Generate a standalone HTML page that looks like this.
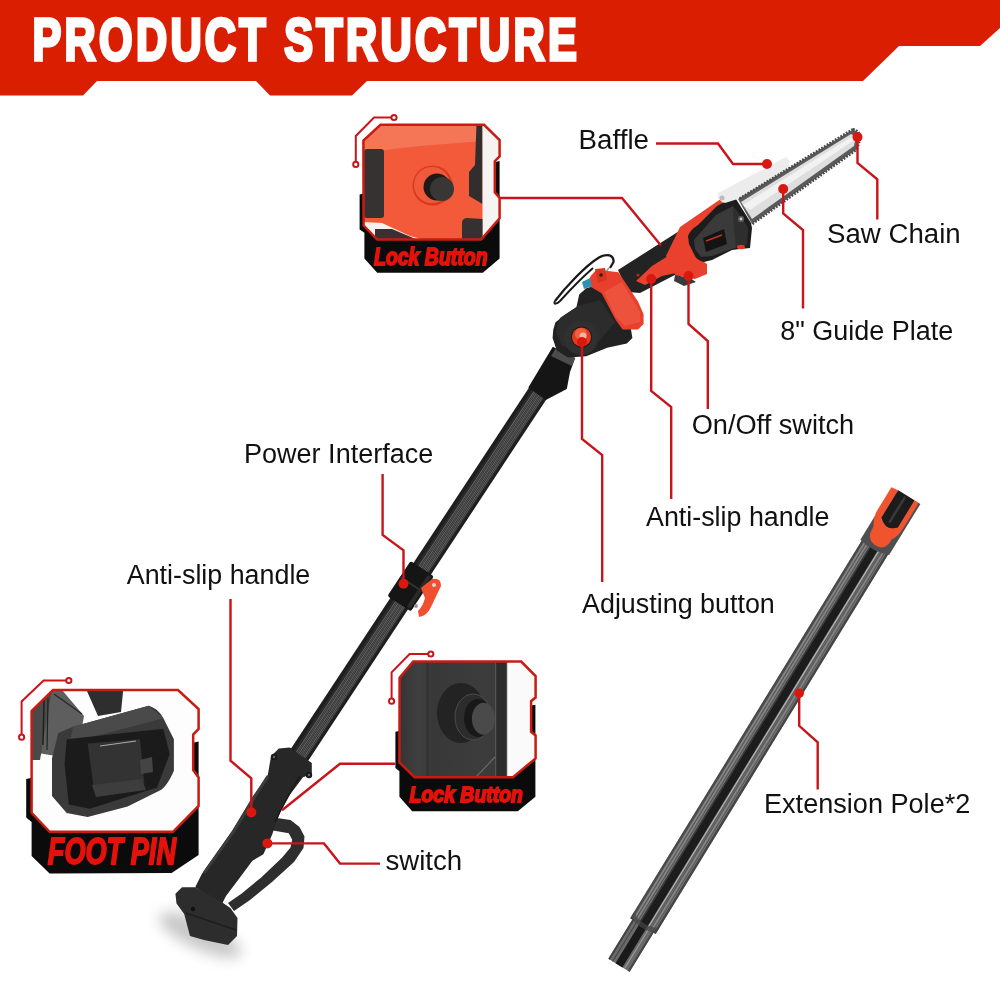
<!DOCTYPE html>
<html><head><meta charset="utf-8">
<style>
html,body{margin:0;padding:0;background:#fff;width:1000px;height:1000px;overflow:hidden}
svg{display:block;will-change:transform}
.lbl{font-family:"Liberation Sans",sans-serif;font-size:27px;fill:#111}
.ttl{font-family:"Liberation Sans",sans-serif;font-weight:bold;fill:#fff}
.tag{font-family:"Liberation Sans",sans-serif;font-weight:bold;font-style:italic;fill:#e3120b;stroke:#e3120b;stroke-width:1.8}
.ld{fill:none;stroke:#c8141a;stroke-width:2.4;stroke-linejoin:miter}
.dot{fill:#d9190f}
.fr{fill:none;stroke:#c81c12;stroke-width:2.5}
.cir{fill:none;stroke:#c8141a;stroke-width:2}
</style></head>
<body>
<svg width="1000" height="1000" viewBox="0 0 1000 1000">
<defs>
</defs>
<!-- banner -->
<polygon points="0,0 1000,0 1000,28 980,46 899,46 863,81 367,81 352,95.5 270,95.5 256,81 97,81 83,95.5 0,95.5" fill="#da1e02"/>
<text class="ttl" transform="translate(32.5,60.3) scale(0.72,1)" x="0" y="0" textLength="756" lengthAdjust="spacing" stroke="#fff" stroke-width="3.6" font-size="60">PRODUCT STRUCTURE</text>

<!-- PRODUCT -->
<g id="product">
<!-- shadow under base -->
<filter id="blur8" x="-50%" y="-50%" width="200%" height="200%"><feGaussianBlur stdDeviation="7"/></filter><ellipse cx="200" cy="935" rx="45" ry="14" fill="#9a9a9a" opacity="0.55" transform="rotate(25 200 935)" filter="url(#blur8)"/>
<!-- extension pole -->
<g transform="translate(876.5,545) rotate(31.5)">
  <rect x="-14.9" y="0" width="29.8" height="447" fill="#767676"/>
  <rect x="-14.9" y="0" width="2.4" height="447" fill="#4a4a4a"/>
  <rect x="12.5" y="0" width="2.4" height="447" fill="#454545"/>
  <rect x="-11.8" y="0" width="0.9" height="447" fill="#8a8a8a"/>
  <rect x="-10.4" y="0" width="0.9" height="447" fill="#555"/>
  <rect x="-9" y="0" width="0.9" height="447" fill="#8a8a8a"/>
  <rect x="-7.4" y="0" width="0.9" height="447" fill="#555"/>
  <rect x="-5.4" y="0" width="1.4" height="447" fill="#3a3a3a"/>
  <rect x="4.4" y="0" width="1.3" height="447" fill="#b0b0b0"/>
  <rect x="6" y="0" width="0.9" height="447" fill="#5a5a5a"/>
  <rect x="7.4" y="0" width="0.9" height="447" fill="#555"/>
  <rect x="9" y="0" width="0.9" height="447" fill="#8a8a8a"/>
  <rect x="10.6" y="0" width="0.9" height="447" fill="#555"/>
  <rect x="-4" y="0" width="8" height="447" fill="#1c1c1c"/>
  <rect x="-12.5" y="445" width="25" height="48" rx="1.5" fill="#6a6a6a"/>
  <rect x="-12.5" y="445" width="2" height="48" fill="#444"/>
  <rect x="10.5" y="445" width="2" height="48" fill="#444"/>
  <rect x="-4" y="445" width="8" height="48" fill="#1a1a1a"/>
  <rect x="-8" y="445" width="1" height="48" fill="#444"/>
  <rect x="6" y="445" width="1" height="48" fill="#a0a0a0"/>
<path d="M-14.9,440 Q0,448 14.9,440 L14.9,446 Q0,452 -14.9,446 Z" fill="#444" opacity="0.7"/>
  <path d="M-16.5,4 L-16.5,-56 L16,-58 L16,2 Q0,8 -16.5,4 Z" fill="#4f4f4f"/>
  <path d="M-17.5,-57 L-10,-58 L-10,-26 Q0,-16 9,-26 L9,-58 L14,-58 L14,-28 Q14,-18 10,-13 Q11,1 -1,1 Q-13,0 -12,-14 Q-17.5,-22 -17.5,-30 Z" fill="#f0542f"/>
  <path d="M-10,-58 L-10,-26 Q0,-16 9,-26 L9,-58 Z" fill="#1c1c1c"/>
  <rect x="-2" y="-56" width="2.5" height="30" fill="#3a3a3a"/>
</g>


<!-- main pole -->
<g transform="translate(536.7,395) rotate(33.39)">
  <rect x="-10.5" y="-12" width="21" height="452" fill="#1e1e1e"/>
  <rect x="-7" y="-12" width="15" height="452" fill="#2a2a2a"/>
  <rect x="-5" y="-12" width="12" height="452" fill="#323232"/>
  <rect x="-4.50" y="-12" width="0.7" height="452" fill="#707070"/>
  <rect x="-3.00" y="-12" width="0.7" height="452" fill="#5c5c5c"/>
  <rect x="-1.50" y="-12" width="0.7" height="452" fill="#707070"/>
  <rect x="0.00" y="-12" width="0.7" height="452" fill="#5c5c5c"/>
  <rect x="1.50" y="-12" width="0.7" height="452" fill="#707070"/>
  <rect x="3.00" y="-12" width="0.7" height="452" fill="#5c5c5c"/>
  <rect x="4.50" y="-12" width="0.7" height="452" fill="#707070"/>
  <rect x="6.00" y="-12" width="0.7" height="452" fill="#5c5c5c"/>
</g>
<!-- lower handle -->
<path d="M270,817 L290.5,820 L299.5,827 L304.5,836.6 L303.5,848 L294,862 L272,882 L250,900 L234,911 L228,903 L241.4,893.8 L261.2,877.4 L282.2,857.6 L290.5,847.6 L292.2,839.8 L288.8,833.2 L270,830 Z" fill="#2e2e2e"/>
<path d="M271,756.3 L278.8,748.6 L289.8,747.5 L311.8,762.9 L311.8,773.9 L303,777.2 L289.8,794.8 L280,812.4 L274.4,827.8 L272.2,834.4 L263.4,854.2 L252.4,860.8 L239.2,878.4 L226,896 L221.6,904.8 L195.2,887.2 L201.8,874 L217.2,852 L232.6,830 L252.4,797 L267.8,775 Z" fill="#272727"/>
<path d="M268,776 L254,798 L234,831 L219,852 L204,873" stroke="#3c3c3c" stroke-width="3" fill="none"/>
<path d="M300,776 Q285,800 275,822" stroke="#1a1a1a" stroke-width="1.5" fill="none"/>
<path d="M175.4,893.8 L182,887.2 L195.2,887.2 L221.6,902 L230.4,908 L237.5,918 L237,936 L228,945 L204,940 L190,936 L184.2,914 L176.5,903.5 Z" fill="#2d2d2d"/>
<path d="M186,913 L236,930" stroke="#1e1e1e" stroke-width="1.5"/>
<circle cx="193" cy="909" r="2.2" fill="#111"/>
<circle cx="274" cy="757" r="3.2" fill="#1a1a1a"/><circle cx="309" cy="775" r="3.2" fill="#1a1a1a"/>
<circle cx="274" cy="757" r="1.2" fill="#666"/><circle cx="309" cy="775" r="1.2" fill="#666"/>
<!-- power interface clamp -->
<g transform="translate(536.7,395) rotate(33.39)">
  <rect x="-14" y="208" width="28" height="42" rx="2" fill="#151515"/>
  <rect x="-14" y="226" width="28" height="2" fill="#333"/>
  <rect x="8" y="210" width="4" height="38" fill="#2a2a2a"/>
</g>
<path d="M421,588 L432,579 Q441,577 441,586 L431,607 Q427,616 419,617 L418,611 Q423,606 425,598 Z" fill="#f0502f"/>
<circle cx="434" cy="585" r="2" fill="#ddd"/>
<circle cx="416" cy="606" r="2" fill="#999"/>
<!-- top collar -->
<polygon points="552.8,346.8 575.2,358 570,372 566.8,389 545.8,400 528.3,387.4" fill="#151515"/>
<polygon points="556,348 575,358 572,366 551,356" fill="#5a5a5a" opacity="0.8"/>

<!-- strap -->
<path d="M555,301 C565,288 585,266 599,257.5 C607,253 614,255 613.5,262 L610,268" stroke="#1a1a1a" stroke-width="2.3" fill="none"/>
<path d="M555,301 C553,305 557,304 560,301 C570,290 585,275 593,268" stroke="#1a1a1a" stroke-width="2" fill="none"/>
<path d="M609,268 L605,273" stroke="#999" stroke-width="1.5"/>

<!-- handle shaft -->
<polygon points="618,270 684,228 698,236 700,262 640,293 628,292" fill="#232323"/>
<!-- pivot housing -->
<polygon points="553.3,329.6 555.4,322.6 563.8,315.6 576.4,307.2 579.2,294.6 586.2,288.3 593.2,286.2 622,300 631,329.6 632.4,338 626.8,343.6 607.2,347.8 586.2,356.2 568,357.6 556.8,350.6 552.6,338" fill="#222"/>
<polygon points="560,318 578,306 600,300 615,322 600,340 580,350 562,346 556,332" fill="#2c2c2c"/>
<!-- red battery -->
<polygon points="587.6,284.8 590.4,276.4 596,270.1 605.8,270.8 618.4,272.2 626.8,284.8 638,301.6 643.6,314.2 643.6,324 638,329.6 622.6,329.6 615.6,319.8 601.6,293.2 591.8,287.6" fill="#e8402c"/>
<polygon points="604,292 622,282 640,312 640,322 625,326 615,316" fill="#ef5a45" opacity="0.7"/>
<polygon points="595,269 605,268 607,280 598,283" fill="#d8341f"/>
<circle cx="601" cy="275" r="1.8" fill="#222"/>
<polygon points="582,282 590,278 592,286 584,289" fill="#2f8fb0"/>
<circle cx="581" cy="338" r="17" fill="#303030"/>
<circle cx="581.5" cy="337" r="10.5" fill="#1a1a1a"/>
<circle cx="581.5" cy="337" r="9.6" fill="#e33a20"/>
<circle cx="581" cy="334" r="6" fill="#f0603f"/>
<circle cx="583" cy="336" r="3.5" fill="#f6b8a4"/>

<!-- red strip on shaft & motor housing -->
<polygon points="636,281 652,266 668,256 690,248 700,262 690,270 662,276 645,285" fill="#e9412d"/>
<polygon points="666,256 680,227 720,199.5 724,204 700,240 704,262 707,264 707,274 695,279 680,276 676,276" fill="#e9412d"/>
<polygon points="675,275 690,278 696,282 684,286 674,281" fill="#3a3a3a"/>
<circle cx="638" cy="275" r="1.6" fill="#b02a1a"/>
<!-- head cover -->
<path d="M688,236 Q690,230 698,225 L717,206 L732,198 L736,199 L751,223 L752,228 L750,248 L740,249 L732,250 L712,260 L704,262 Q697,260 695,256 L689,244 Z" fill="#1d1d1d"/>
<polygon points="694,240 716,215 733,206 747,226 746,244 712,256 701,257 695,249" fill="#3a3a3a"/>
<polygon points="733,207 748,228 747,245 736,247 734,230" fill="#2e2e2e"/>
<polygon points="703,238 724,229 727,244 706,252" fill="#141414"/>
<line x1="706" y1="241" x2="722" y2="235" stroke="#c8321f" stroke-width="1.4"/>
<circle cx="741" cy="219" r="3.2" fill="#555"/><circle cx="741" cy="219" r="1.4" fill="#ccc"/>
<ellipse cx="741" cy="247" rx="4" ry="2.2" fill="#e23a22"/>
<!-- baffle -->
<polygon points="718,193 786,157 790,161 788,170 741,198 725,203 718,199" fill="#ececec"/>
<circle cx="722" cy="198" r="2.5" fill="#bbb"/>
<!-- chain + bar -->
<path d="M738,199 L853,129.5 Q860,132 859,140 L857,149 L752,224 Z" fill="#5a5a5a"/>
<path d="M741,202 L851,134 Q856,136 855,141 L854,146 L752,219 Z" fill="#dedede"/>
<path d="M743,205 L851,137 L853,141 L750,210 Z" fill="#f2f2f2"/>
<path d="M739.5,198.5 L853,129" stroke="#484848" stroke-width="2.4" stroke-dasharray="1.8,1.4" fill="none"/>
<path d="M752.5,224 L857,149.5" stroke="#484848" stroke-width="2.4" stroke-dasharray="1.8,1.4" fill="none"/>
<path d="M853,129 Q861,131 860,140 L857,149.5" stroke="#484848" stroke-width="2.2" stroke-dasharray="1.8,1.4" fill="none"/>
</g>

<!-- leader lines -->
<g>
<polyline class="ld" points="656,143.5 718,143.5 733,164 767,164"/>
<circle class="dot" cx="767" cy="164" r="5"/>
<polyline class="ld" points="857.5,137 857.5,163 877.3,179.3 877.3,219.5"/>
<circle class="dot" cx="857.5" cy="137" r="5"/>
<polyline class="ld" points="783.2,189 783.2,213.5 803,230 803,308.5"/>
<circle class="dot" cx="783.2" cy="189" r="5"/>
<polyline class="ld" points="688.5,276 688.5,324 707.8,341 707.8,409"/>
<circle class="dot" cx="688.5" cy="276" r="5"/>
<polyline class="ld" points="651.2,279 651.2,391 671.2,407 671.2,499"/>
<circle class="dot" cx="651.2" cy="279" r="5"/>
<polyline class="ld" points="582,342 582,439 602.2,455 602.2,582"/>
<circle class="dot" cx="582" cy="342" r="5"/>
<polyline class="ld" points="499.6,198 622,198 661,245.6"/>
<polyline class="ld" points="382.6,474 382.6,535 403.5,550.3 403.5,583.8"/>
<circle class="dot" cx="403.5" cy="583.8" r="5"/>
<polyline class="ld" points="230.5,599 230.5,760.7 251.3,778.3 251.3,812.4"/>
<circle class="dot" cx="251.3" cy="812.4" r="5"/>
<polyline class="ld" points="267.4,843.4 324,843.4 340,863.6 380,863.6"/>
<circle class="dot" cx="267.4" cy="843.4" r="5"/>
<polyline class="ld" points="395,763.8 340,763.8 282,810.2"/>
<polyline class="ld" points="799.2,693.2 799.2,725.8 817.7,742.4 817.7,789.5"/>
<circle class="dot" cx="799.2" cy="693.2" r="4.8"/>
</g>

<!-- labels -->
<text class="lbl" x="578.6" y="149.1" textLength="70.4" lengthAdjust="spacingAndGlyphs">Baffle</text>
<text class="lbl" x="827.0" y="243.0" textLength="133.7" lengthAdjust="spacingAndGlyphs">Saw Chain</text>
<text class="lbl" x="780.3" y="340.0" textLength="173.0" lengthAdjust="spacingAndGlyphs">8" Guide Plate</text>
<text class="lbl" x="691.7" y="434.1" textLength="162.5" lengthAdjust="spacingAndGlyphs">On/Off switch</text>
<text class="lbl" x="646.0" y="526.0" textLength="183.5" lengthAdjust="spacingAndGlyphs">Anti-slip handle</text>
<text class="lbl" x="582.0" y="613.4" textLength="192.8" lengthAdjust="spacingAndGlyphs">Adjusting button</text>
<text class="lbl" x="244.0" y="463.4" textLength="189.3" lengthAdjust="spacingAndGlyphs">Power Interface</text>
<text class="lbl" x="126.8" y="583.6" textLength="183.5" lengthAdjust="spacingAndGlyphs">Anti-slip handle</text>
<text class="lbl" x="764.0" y="812.9" textLength="206.3" lengthAdjust="spacingAndGlyphs">Extension Pole*2</text>
<text class="lbl" x="385.4" y="870.2" textLength="76.8" lengthAdjust="spacingAndGlyphs">switch</text>

<!-- INSETS -->
<g id="insets">
<!-- Inset A: top lock button -->
<g>
<polygon points="359.6,194.4 499.6,161 499.6,258.4 482.8,272.8 377.2,272.8 364.4,258.4 364.4,232.8 359.6,229.6" fill="#0b0b0b"/>
<clipPath id="cA"><polygon points="380.5,124.8 484,124.8 499.6,140 499.6,156.4 494.8,161.2 494.8,192.4 499.6,198 499.6,218.4 481.2,239.6 377.2,239.6 363.6,225.6 363.4,140.5"/></clipPath>
<g clip-path="url(#cA)">
  <rect x="360" y="120" width="145" height="125" fill="#f25a3a"/>
  <polygon points="360,120 505,120 505,140 470,142 420,146 385,150 360,158" fill="#f47656"/>
  <rect x="364" y="149" width="20" height="69" rx="3" fill="#363232"/>
  <path d="M476.5,124 L482.5,124 L482.5,204 L469,196 L469,172 L475,165 Z" fill="#332e2e"/>
  <polygon points="482.5,124 500,124 500,240 482.5,240" fill="#f6f4f3"/>
  <path d="M462,222 Q463,218 467,218 L482.5,219 L482.5,240 L462,240 Z" fill="#363131"/>
  <polygon points="363,222 382,223 410,236 425,240 363,240" fill="#f6f0ee"/>
  <polygon points="375,229 392,229 418,240 375,240" fill="#3a3030"/>
  <circle cx="432.5" cy="185.5" r="20" fill="#d63a20"/>
  <circle cx="432" cy="185" r="18" fill="#f05a3a"/>
  <circle cx="437" cy="187" r="13.5" fill="#1e1a1a"/>
  <circle cx="442" cy="189" r="12" fill="#393636"/>
</g>
<polygon class="fr" points="380.5,124.8 484,124.8 499.6,140 499.6,156.4 494.8,161.2 494.8,192.4 499.6,198 499.6,218.4 481.2,239.6 377.2,239.6 363.6,225.6 363.4,140.5"/>
<polyline class="cir" points="391.5,117.5 374,117.5 355.8,136 355.8,161.9"/>
<circle class="cir" cx="394" cy="117.5" r="2.6" fill="#fff"/>
<circle class="cir" cx="355.8" cy="164.4" r="2.6" fill="#fff"/>
<text class="tag" x="374" y="264.7" font-size="23.5" textLength="113.6" lengthAdjust="spacingAndGlyphs">Lock Button</text>
</g>

<!-- Inset B: foot pin -->
<g>
<polygon points="26.2,779 198.6,741.4 198.6,855 171.6,873 49.6,873.4 31.6,856 31.6,822 26.2,817.6" fill="#0b0b0b"/>
<clipPath id="cB"><polygon points="53,690 178,690 198.6,709 198.6,729 193.2,734.5 193.2,770 198.6,777.5 198.6,806 173,831.8 49.6,831.8 31.6,812.8 31.6,711"/></clipPath>
<g clip-path="url(#cB)">
  <rect x="30" y="688" width="170" height="146" fill="#fdfdfd"/>
  <path d="M30,690 L62,690 L84,716 L78,750 L56,756 L32,752 Z" fill="#5e5e5e"/>
  <path d="M30,700 L40,690 L52,690 L40,760 L30,760 Z" fill="#4a4a4a"/>
  <path d="M44,700 L43,745" stroke="#1e1e1e" stroke-width="1.4"/>
  <path d="M48,698 L47,750" stroke="#222" stroke-width="1.2"/>
  <path d="M54,694 L82,714" stroke="#2a2a2a" stroke-width="1.5"/>
  <polygon points="85.6,688 123.4,688 121,712 98,716" fill="#2e2e2e"/>
  <path d="M73,726.7 L148.7,705.7 C156,708 161,713 163.4,718.3 L173.9,739.3 L173.9,770.8 C170,780 166,786 161.3,789.7 L127.6,806.6 L87.7,817 L66.7,812.9 L52,796 L52,758.2 L58.3,733 Z" fill="#3a3a3a"/>
  <polygon points="73,726.7 148.7,705.7 163.4,718.3 100,735 70,742" fill="#4a4a4a"/>
  <polygon points="66.7,739.3 163.4,728.8 169.7,754 157,787.6 89.8,808.7 68.8,804.5 64.6,764.5" fill="#1b1b1b"/>
  <polygon points="87.7,743.5 140,739.3 144.4,783.4 94,789.7" fill="#333"/>
  <polygon points="92,785 142,779 146,790 96,797" fill="#3d3d3d"/>
  <line x1="100" y1="746" x2="136" y2="741" stroke="#aaa" stroke-width="1.2"/>
  <polygon points="140,760 152,757 153,772 141,774" fill="#444"/>
</g>
<polygon class="fr" points="53,690 178,690 198.6,709 198.6,729 193.2,734.5 193.2,770 198.6,777.5 198.6,806 173,831.8 49.6,831.8 31.6,812.8 31.6,711"/>
<polyline class="cir" points="66.3,680.5 43.6,680.5 21.6,701.5 21.6,734.5"/>
<circle class="cir" cx="68.8" cy="680.5" r="2.6" fill="#fff"/>
<circle class="cir" cx="21.6" cy="737.2" r="2.6" fill="#fff"/>
<text class="tag" x="47.8" y="864.3" font-size="36" textLength="128.2" lengthAdjust="spacingAndGlyphs">FOOT PIN</text>
</g>

<!-- Inset C: mid lock button -->
<g>
<polygon points="395.4,731.8 535.4,704.8 535.4,796.8 517.8,811.2 412.2,811.2 399.4,796.8 399.4,771.2 395.4,768" fill="#0b0b0b"/>
<clipPath id="cC"><polygon points="413.2,661.6 521.2,661.6 535.6,676 535.6,697.6 531.1,701.2 531.1,731.8 535.6,735.4 535.6,758.4 513,777.2 414.6,777.2 399.4,762.4 399.6,677.8"/></clipPath>
<g clip-path="url(#cC)">
  <defs><linearGradient id="gC" x1="0" x2="1" y1="0" y2="0"><stop offset="0" stop-color="#333"/><stop offset="0.15" stop-color="#404040"/><stop offset="0.25" stop-color="#383838"/><stop offset="0.6" stop-color="#3c3c3c"/><stop offset="1" stop-color="#353535"/></linearGradient></defs>
  <rect x="398" y="660" width="140" height="120" fill="url(#gC)"/>
  <rect x="426" y="660" width="3" height="120" fill="#2e2e2e" opacity="0.6"/>
  <rect x="495" y="660" width="12" height="120" fill="#2d2d2d"/>
  <rect x="495" y="660" width="1.2" height="120" fill="#555"/>
  <rect x="506" y="660" width="1.2" height="120" fill="#4a4a4a"/>
  <rect x="507.2" y="660" width="30" height="120" fill="#fafafa"/>
  <line x1="475" y1="778" x2="495" y2="757" stroke="#6a6a6a" stroke-width="1.2"/>
  <ellipse cx="461" cy="713" rx="24" ry="30" fill="#232323"/>
  <ellipse cx="473" cy="717" rx="18" ry="23" fill="#2c2c2c"/>
  <ellipse cx="473" cy="717" rx="18" ry="23" fill="none" stroke="#505050" stroke-width="0.9"/>
  <ellipse cx="478" cy="718" rx="14" ry="19" fill="#181818"/>
  <ellipse cx="483.5" cy="718.8" rx="11.6" ry="16" fill="#4a4a4a"/>
</g>
<polygon class="fr" points="413.2,661.6 521.2,661.6 535.6,676 535.6,697.6 531.1,701.2 531.1,731.8 535.6,735.4 535.6,758.4 513,777.2 414.6,777.2 399.4,762.4 399.6,677.8"/>
<polyline class="cir" points="428.3,654 409.6,654 391.6,672.4 391.6,698.6"/>
<circle class="cir" cx="430.8" cy="654" r="2.6" fill="#fff"/>
<circle class="cir" cx="391.6" cy="701.2" r="2.6" fill="#fff"/>
<text class="tag" x="409.6" y="802" font-size="22.6" textLength="113.4" lengthAdjust="spacingAndGlyphs">Lock Button</text>
</g>
</g>
</svg>
</body></html>
